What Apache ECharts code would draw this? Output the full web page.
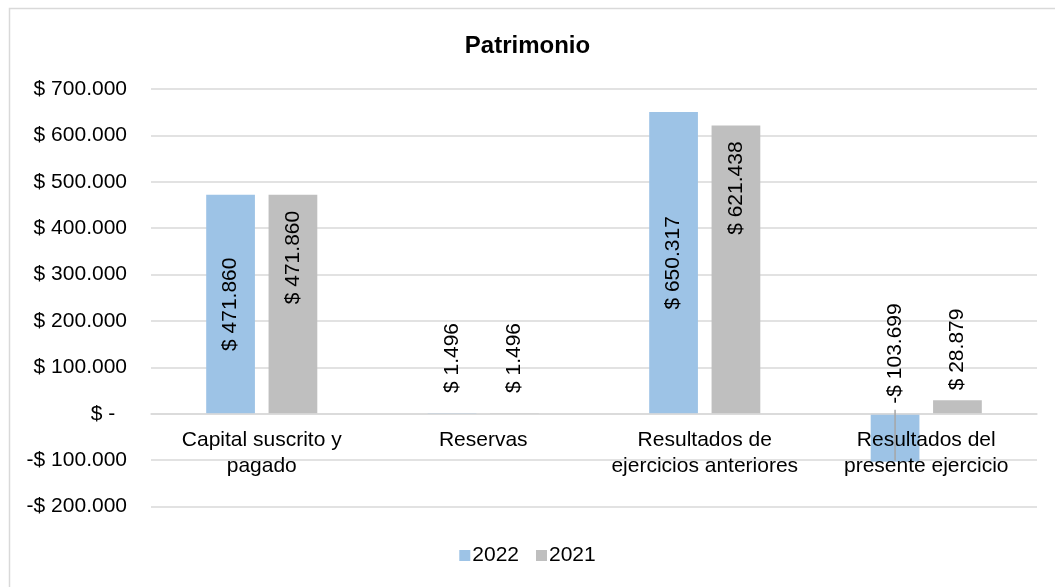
<!DOCTYPE html>
<html>
<head>
<meta charset="utf-8">
<script src="https://cdn.jsdelivr.net/npm/echarts@6/dist/echarts.min.js"></script>
<style>
html,body{margin:0;padding:0;background:#fff;}
#c{width:1055px;height:587px;}
</style>
</head>
<body>
<div id="c"></div>
<script>
const title = 'Patrimonio';
const categories = ['Capital suscrito y\npagado', 'Reservas', 'Resultados de\nejercicios anteriores', 'Resultados del\npresente ejercicio'];
const seriesNames = ['2022', '2021'];
const values2022 = [471860, 1496, 650317, -103699];
const values2021 = [471860, 1496, 621438, 28879];
const yTicks = { min: -200000, max: 700000, step: 100000 };

const FONT = 'Liberation Sans, Arial, sans-serif';
const COLORS = ['#9DC3E6', '#BFBFBF'];
const BAR_W = 0.22, BAR_GAP = 0.28;
const GRID = { left: 151, right: 18, top: 89, height: 417.5 };
// distance from bottom of grid up to the zero line, from the axis scale
const zeroOffset = -GRID.height * (0 - yTicks.min) / (yTicks.max - yTicks.min);

function fmtNum(n) {
  return String(Math.round(Math.abs(n))).replace(/\B(?=(\d{3})+(?!\d))/g, '.');
}
function fmtMoney(v) {
  if (v === 0) return '$ -  ';
  return (v < 0 ? '-$ ' : '$ ') + fmtNum(v);
}

const baseLabel = { show: true, rotate: 90, color: '#000', fontSize: 21, fontFamily: FONT,
  formatter: p => fmtMoney(p.value) };

function outsideLabel(v) {
  const dist = (v > 0 && v < 10000) ? 20 : 10;
  return { position: ['50%', -dist], align: 'left', verticalAlign: 'middle' };
}
function items2022(vals) {
  return vals.map(v => {
    if (v > 50000) return { value: v, label: { position: 'inside', align: 'center', verticalAlign: 'middle' } };
    return { value: v, label: outsideLabel(v) };
  });
}
function items2021(vals) {
  return vals.map(v => {
    if (v > 50000) return { value: v, label: { position: ['50%', 16], align: 'right', verticalAlign: 'middle' } };
    return { value: v, label: outsideLabel(v) };
  });
}

const leaderData = values2022.map((v, i) => [i, v]).filter(d => d[1] < 0);

const chart = echarts.init(document.getElementById('c'), null, { renderer: 'canvas' });
chart.setOption({
  animation: false,
  backgroundColor: '#fff',
  textStyle: { fontFamily: FONT },
  graphic: [{
    type: 'rect', left: 7, top: 6, shape: { width: 1200, height: 800 },
    style: { fill: 'none', stroke: '#D9D9D9', lineWidth: 1.5 }, silent: true, z: -10
  }],
  title: {
    text: title, left: 'center', top: 29,
    textStyle: { fontSize: 24, fontWeight: 'bold', color: '#000', fontFamily: FONT }
  },
  legend: {
    data: seriesNames, bottom: 16, left: 'center', icon: 'rect', itemWidth: 11, itemHeight: 11,
    itemGap: 17, textStyle: { fontSize: 21, color: '#000', fontFamily: FONT, padding: [0, 0, 0, -3] }
  },
  grid: { left: GRID.left, right: GRID.right, top: GRID.top, height: GRID.height, containLabel: false },
  xAxis: {
    type: 'category', data: categories, z: 5, position: 'bottom', offset: zeroOffset,
    axisLine: { show: true, onZero: false, lineStyle: { color: '#D9D9D9', width: 1.5 } },
    axisTick: { show: false },
    axisLabel: { fontSize: 21, color: '#000', fontFamily: FONT, margin: 13, lineHeight: 26, interval: 0 }
  },
  yAxis: {
    type: 'value', min: yTicks.min, max: yTicks.max, interval: yTicks.step,
    axisLine: { show: false }, axisTick: { show: false },
    splitLine: { lineStyle: { color: '#D9D9D9', width: 1.5 } },
    axisLabel: { fontSize: 21, color: '#000', fontFamily: FONT, margin: 24, formatter: fmtMoney }
  },
  series: [
    { name: seriesNames[0], type: 'bar', data: items2022(values2022), barWidth: (BAR_W * 100) + '%', barGap: (BAR_GAP * 100) + '%',
      itemStyle: { color: COLORS[0] }, label: baseLabel },
    { name: seriesNames[1], type: 'bar', data: items2021(values2021), barWidth: (BAR_W * 100) + '%', barGap: (BAR_GAP * 100) + '%',
      itemStyle: { color: COLORS[1] }, label: baseLabel },
    { name: 'leader', type: 'custom', data: leaderData, z: 6, silent: true,
      renderItem: (params, api) => {
        const idx = api.value(0), val = api.value(1);
        const catW = api.size([1, 0])[0];
        const bw = catW * BAR_W, gap = bw * BAR_GAP;
        const p0 = api.coord([idx, 0]);
        const p1 = api.coord([idx, val]);
        const x = p0[0] - (bw + gap) / 2;
        return { type: 'line', shape: { x1: x, y1: p0[1] - 4, x2: x, y2: p1[1] - 1 },
          style: { stroke: '#A6A6A6', lineWidth: 1.5 } };
      }
    }
  ]
});
</script>
</body>
</html>
